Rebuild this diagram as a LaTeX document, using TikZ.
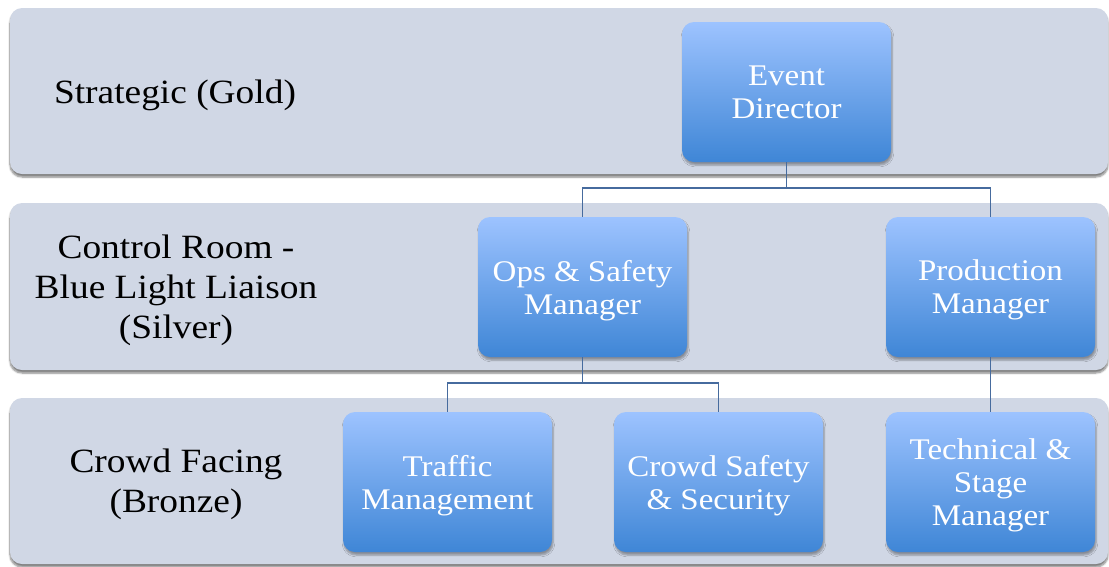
\documentclass[tikz,border=0pt]{standalone}
\usepackage{fontspec}
\setmainfont[FakeStretch=1.1]{Liberation Serif}
\usetikzlibrary{shadows.blur}
\definecolor{bandfill}{HTML}{D0D7E5}
\definecolor{boxtop}{HTML}{9DC3FF}
\definecolor{boxbot}{HTML}{3F86D6}
\definecolor{linkcol}{HTML}{466B9E}
\begin{document}
\begin{tikzpicture}[x=1pt,y=-1pt,
  band/.style={fill=bandfill, rounded corners=12pt,
    blur shadow={shadow xshift=0pt, shadow yshift=-3pt, shadow blur steps=6, shadow opacity=50}},
  tier/.style={align=center, text=black, text depth=0pt, font=\fontsize{34}{40}\selectfont},
  role/.style={rounded corners=12pt, top color=boxtop, bottom color=boxbot,
    minimum width=209pt, minimum height=140pt, inner sep=0pt, text depth=0pt,
    align=center, text=white, font=\fontsize{30}{33}\selectfont,
    blur shadow={shadow xshift=1pt, shadow yshift=-3pt, shadow blur steps=5, shadow opacity=35}},
  link/.style={draw=linkcol, line width=1.8pt}]
\useasboundingbox (0,0) rectangle (1109,566);

% tier bands
\path[band] (10,8) rectangle (1108,174);
\path[band] (10,203) rectangle (1108,370);
\path[band] (10,398) rectangle (1108,564);

% tier captions
\node[tier] (gold) at (175,92) {Strategic (Gold)};
\node[tier] (silver) at (176,287) {Control Room -\\Blue Light Liaison\\(Silver)};
\node[tier] (bronze) at (176,481) {Crowd Facing\\(Bronze)};

% roles
\node[role] (ed) at (786.5,92) {Event\\Director};
\node[role] (ops) at (582.5,287) {Ops \& Safety\\Manager};
\node[role] (prod) at (990.5,287) {Production\\Manager};
\node[role] (traffic) at (447.5,482) {Traffic\\Management};
\node[role] (crowd) at (718.5,482) {Crowd Safety\\\& Security};
\node[role] (tech) at (990.5,482) {Technical \&\\Stage\\Manager};

% reporting lines
\draw[link] (ed.south) -- ++(0,26) -| (ops.north);
\draw[link] (ed.south) -- ++(0,26) -| (prod.north);
\draw[link] (ops.south) -- ++(0,26) -| (traffic.north);
\draw[link] (ops.south) -- ++(0,26) -| (crowd.north);
\draw[link] (prod.south) -- (tech.north);
\end{tikzpicture}
\end{document}
